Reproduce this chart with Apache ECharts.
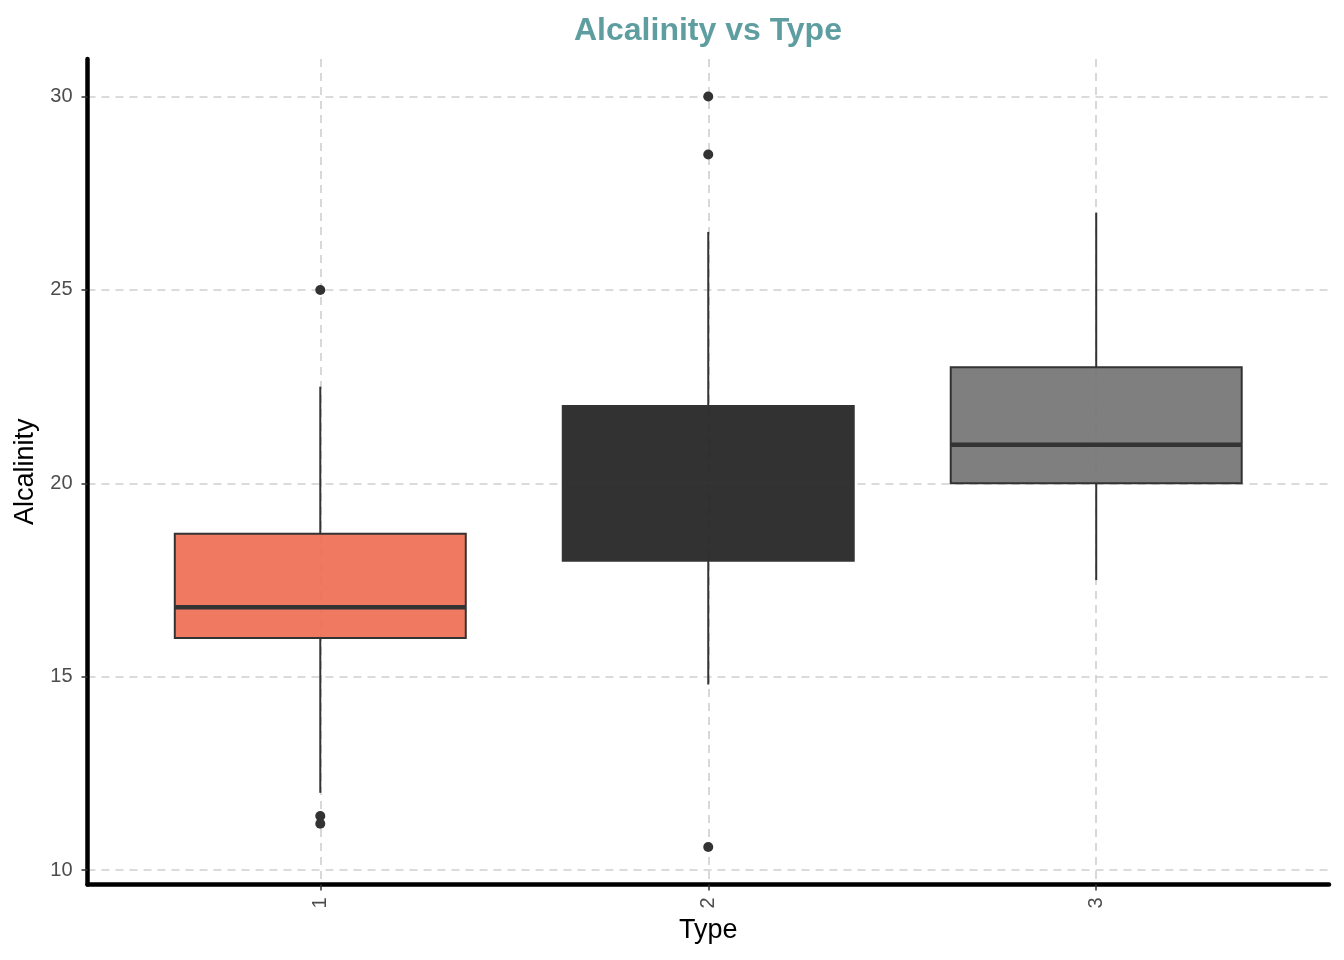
<!DOCTYPE html>
<html>
<head>
<meta charset="utf-8">
<script src="https://cdn.jsdelivr.net/npm/echarts@6/dist/echarts.min.js"></script>
<style>
html,body{margin:0;padding:0;background:#fff;}
#chart{width:1344px;height:960px;}
</style>
</head>
<body>
<div id="chart"></div>
<script>
// ---- data ----
const categories = ['1', '2', '3'];
const typeValues = [1, 2, 3];
const whiskerLow = [12.0, 14.8, 17.5];
const q1 = [16.0, 18.0, 20.0];
const median = [16.8, 20.0, 21.0];
const q3 = [18.7, 22.0, 23.0];
const whiskerHigh = [22.5, 26.5, 27.0];
const outlierType = [1, 1, 1, 2, 2, 2];
const outlierValue = [25.0, 11.4, 11.2, 30.0, 28.5, 10.6];
const yTicks = [10, 15, 20, 25, 30];
const boxFills = ['rgba(239,110,85,0.92)', 'rgba(33,33,33,0.92)', 'rgba(116,116,116,0.92)'];

const FONT = "'Liberation Sans', Arial, sans-serif";

const boxData = typeValues.map((t, i) => [t, whiskerLow[i], q1[i], median[i], q3[i], whiskerHigh[i], i]);
const outlierData = outlierType.map((t, i) => [t, outlierValue[i]]);

const chart = echarts.init(document.getElementById('chart'), null, {renderer: 'canvas'});

chart.setOption({
  backgroundColor: '#ffffff',
  animation: false,
  title: {
    text: 'Alcalinity vs Type',
    left: 569,
    top: 10,
    textStyle: {fontFamily: FONT, fontSize: 32, fontWeight: 'bold', color: '#5F9EA0'}
  },
  grid: {left: 87.5, right: 15, top: 59, bottom: 75.5, containLabel: false},
  xAxis: {
    type: 'value',
    min: 0.4,
    max: 3.6,
    name: 'Type',
    nameLocation: 'middle',
    nameGap: 33,
    nameTextStyle: {fontFamily: FONT, fontSize: 27, color: '#000'},
    axisLine: {show: true, onZero: false, lineStyle: {color: '#000', width: 4.5}},
    axisTick: {show: true, length: 6, customValues: typeValues, lineStyle: {color: '#333', width: 1.5}},
    axisLabel: {
      customValues: typeValues,
      rotate: 90,
      margin: 13,
      fontFamily: FONT, fontSize: 20, color: '#4d4d4d',
      formatter: v => categories[typeValues.indexOf(v)] || ''
    },
    splitLine: {show: true, lineStyle: {color: '#cfcfcf', width: 1.6, type: [8, 6]}}
  },
  yAxis: {
    type: 'value',
    min: 9.63,
    max: 30.97,
    name: 'Alcalinity',
    nameLocation: 'middle',
    nameGap: 43,
    nameTextStyle: {fontFamily: FONT, fontSize: 27, color: '#000'},
    axisLine: {show: true, onZero: false, lineStyle: {color: '#000', width: 4.5}},
    axisTick: {show: true, length: 6, customValues: yTicks, lineStyle: {color: '#333', width: 1.5}},
    axisLabel: {customValues: yTicks, margin: 15, fontFamily: FONT, fontSize: 20, color: '#4d4d4d'},
    splitLine: {show: true, lineStyle: {color: '#cfcfcf', width: 1.6, type: [8, 6]}}
  },
  series: [
    {
      type: 'custom',
      name: 'box',
      data: boxData,
      encode: {x: 0, y: [1, 2, 3, 4, 5]},
      z: 2,
      renderItem: function (params, api) {
        const x = api.value(0);
        const pMin = api.coord([x, api.value(1)]);
        const pQ1 = api.coord([x, api.value(2)]);
        const pMed = api.coord([x, api.value(3)]);
        const pQ3 = api.coord([x, api.value(4)]);
        const pMax = api.coord([x, api.value(5)]);
        const w = api.size([0.75, 0])[0];
        const fill = boxFills[api.value(6)];
        const cx = pMin[0];
        return {
          type: 'group',
          children: [
            {type: 'line', shape: {x1: cx, y1: pMin[1], x2: cx, y2: pQ1[1]}, style: {stroke: '#333333', lineWidth: 2}},
            {type: 'line', shape: {x1: cx, y1: pQ3[1], x2: cx, y2: pMax[1]}, style: {stroke: '#333333', lineWidth: 2}},
            {type: 'rect', shape: {x: cx - w / 2, y: pQ3[1], width: w, height: pQ1[1] - pQ3[1]}, style: {fill: fill, stroke: '#333333', lineWidth: 2}},
            {type: 'line', shape: {x1: cx - w / 2, y1: pMed[1], x2: cx + w / 2, y2: pMed[1]}, style: {stroke: '#333333', lineWidth: 4.5}}
          ]
        };
      }
    },
    {
      type: 'scatter',
      name: 'outliers',
      data: outlierData,
      symbol: 'circle',
      symbolSize: 10,
      z: 3,
      itemStyle: {color: '#333333', opacity: 1}
    }
  ]
});
</script>
</body>
</html>
